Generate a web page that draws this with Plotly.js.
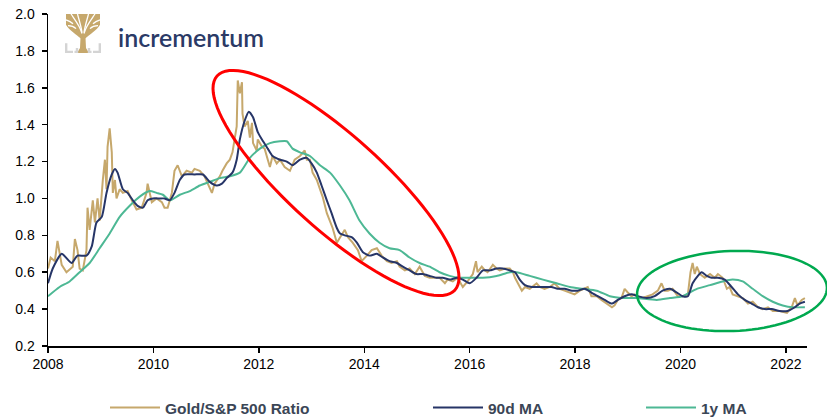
<!DOCTYPE html>
<html>
<head>
<meta charset="utf-8">
<script src="https://cdn.plot.ly/plotly-3.0.1.min.js"></script>
<style>html,body{margin:0;padding:0;background:#fff;}#chart{width:827px;height:419px;}</style>
</head>
<body>
<div id="chart"></div>
<script>
// ---- Data (decimal years, ratio values) ----
const goldX = [2008.00,2008.05,2008.13,2008.18,2008.26,2008.35,2008.47,2008.51,2008.56,2008.60,2008.66,2008.73,2008.75,2008.79,2008.85,2008.89,2008.94,2008.98,2009.04,2009.08,2009.11,2009.13,2009.17,2009.21,2009.23,2009.27,2009.30,2009.36,2009.42,2009.51,2009.59,2009.68,2009.78,2009.87,2009.89,2009.97,2010.06,2010.16,2010.21,2010.27,2010.35,2010.40,2010.46,2010.54,2010.63,2010.73,2010.78,2010.88,2010.97,2011.07,2011.11,2011.16,2011.26,2011.31,2011.39,2011.45,2011.50,2011.58,2011.60,2011.64,2011.68,2011.69,2011.73,2011.79,2011.83,2011.87,2011.89,2011.96,2011.98,2012.06,2012.11,2012.17,2012.21,2012.26,2012.34,2012.40,2012.49,2012.59,2012.68,2012.78,2012.87,2012.91,2012.97,2013.02,2013.10,2013.16,2013.21,2013.29,2013.35,2013.40,2013.48,2013.54,2013.63,2013.69,2013.78,2013.88,2013.95,2014.05,2014.14,2014.24,2014.33,2014.43,2014.52,2014.62,2014.67,2014.77,2014.86,2014.96,2015.05,2015.15,2015.24,2015.34,2015.43,2015.53,2015.58,2015.68,2015.77,2015.87,2015.96,2016.06,2016.12,2016.15,2016.23,2016.29,2016.34,2016.44,2016.51,2016.57,2016.67,2016.76,2016.82,2016.86,2016.92,2016.99,2017.05,2017.14,2017.27,2017.33,2017.42,2017.52,2017.61,2017.71,2017.80,2017.90,2017.99,2018.09,2018.18,2018.24,2018.31,2018.41,2018.50,2018.60,2018.70,2018.75,2018.81,2018.88,2018.94,2019.00,2019.07,2019.13,2019.17,2019.28,2019.38,2019.47,2019.57,2019.64,2019.70,2019.76,2019.85,2019.95,2020.04,2020.14,2020.19,2020.23,2020.27,2020.31,2020.37,2020.46,2020.56,2020.65,2020.71,2020.80,2020.88,2020.93,2020.99,2021.09,2021.18,2021.28,2021.37,2021.47,2021.56,2021.66,2021.75,2021.88,2022.02,2022.11,2022.17,2022.22,2022.30,2022.36];
const goldY = [0.62,0.68,0.66,0.77,0.64,0.60,0.63,0.78,0.72,0.62,0.61,0.72,0.95,0.83,0.99,0.87,1.00,0.88,1.10,1.21,1.05,1.28,1.38,1.25,1.03,1.10,1.00,1.05,1.03,1.04,0.99,0.94,0.95,1.03,1.08,0.98,1.00,0.98,0.95,0.95,1.03,1.15,1.18,1.12,1.15,1.14,1.16,1.15,1.12,1.05,1.03,1.08,1.12,1.15,1.19,1.21,1.25,1.39,1.64,1.57,1.63,1.46,1.39,1.42,1.33,1.41,1.30,1.26,1.32,1.28,1.27,1.21,1.17,1.23,1.19,1.21,1.17,1.15,1.21,1.23,1.26,1.21,1.21,1.14,1.10,1.05,1.01,0.92,0.88,0.84,0.76,0.79,0.83,0.79,0.76,0.72,0.66,0.69,0.72,0.73,0.69,0.66,0.65,0.66,0.63,0.61,0.62,0.59,0.63,0.58,0.57,0.57,0.57,0.54,0.56,0.55,0.57,0.52,0.55,0.59,0.66,0.60,0.63,0.61,0.60,0.64,0.62,0.61,0.62,0.62,0.60,0.57,0.54,0.50,0.52,0.51,0.54,0.52,0.51,0.52,0.54,0.51,0.50,0.49,0.48,0.50,0.51,0.52,0.47,0.47,0.45,0.43,0.41,0.42,0.45,0.46,0.51,0.49,0.47,0.48,0.47,0.46,0.47,0.48,0.50,0.54,0.50,0.50,0.51,0.47,0.47,0.48,0.60,0.65,0.59,0.63,0.59,0.57,0.59,0.57,0.59,0.57,0.51,0.52,0.48,0.47,0.46,0.43,0.44,0.41,0.40,0.41,0.39,0.39,0.38,0.41,0.46,0.42,0.45,0.46];

const ma90X = [2008.00,2008.09,2008.26,2008.37,2008.45,2008.56,2008.73,2008.83,2008.92,2009.02,2009.11,2009.21,2009.27,2009.32,2009.42,2009.51,2009.61,2009.70,2009.80,2009.89,2009.99,2010.12,2010.21,2010.31,2010.40,2010.50,2010.59,2010.78,2010.94,2011.07,2011.20,2011.30,2011.39,2011.50,2011.58,2011.64,2011.73,2011.81,2011.89,2011.98,2012.08,2012.17,2012.26,2012.40,2012.53,2012.64,2012.78,2012.91,2013.00,2013.10,2013.19,2013.29,2013.38,2013.48,2013.54,2013.63,2013.76,2013.86,2013.97,2014.10,2014.24,2014.35,2014.48,2014.62,2014.73,2014.86,2014.99,2015.11,2015.24,2015.37,2015.49,2015.62,2015.76,2015.87,2016.00,2016.13,2016.25,2016.38,2016.51,2016.63,2016.76,2016.86,2016.95,2017.05,2017.18,2017.42,2017.55,2017.67,2017.80,2017.94,2018.05,2018.18,2018.31,2018.43,2018.56,2018.70,2018.81,2018.94,2019.07,2019.19,2019.36,2019.51,2019.66,2019.80,2019.93,2020.04,2020.14,2020.23,2020.33,2020.40,2020.50,2020.59,2020.71,2020.84,2020.97,2021.09,2021.22,2021.35,2021.47,2021.60,2021.73,2021.88,2022.03,2022.17,2022.26,2022.36];
const ma90Y = [0.54,0.62,0.70,0.67,0.65,0.69,0.69,0.74,0.87,0.90,1.03,1.13,1.16,1.14,1.05,1.03,0.99,0.96,0.95,0.99,1.00,1.00,1.00,0.99,1.03,1.10,1.13,1.13,1.13,1.09,1.07,1.08,1.11,1.14,1.21,1.32,1.42,1.47,1.44,1.36,1.31,1.27,1.23,1.21,1.20,1.18,1.21,1.22,1.19,1.14,1.07,0.99,0.92,0.84,0.81,0.80,0.79,0.76,0.71,0.69,0.70,0.68,0.66,0.65,0.63,0.61,0.59,0.59,0.58,0.57,0.57,0.56,0.57,0.56,0.54,0.57,0.61,0.61,0.62,0.62,0.61,0.60,0.56,0.53,0.52,0.52,0.52,0.51,0.51,0.50,0.50,0.51,0.49,0.47,0.45,0.43,0.45,0.47,0.48,0.47,0.46,0.47,0.50,0.51,0.49,0.47,0.47,0.54,0.58,0.60,0.58,0.57,0.57,0.56,0.52,0.48,0.45,0.43,0.41,0.40,0.40,0.39,0.39,0.41,0.43,0.44];

const ma1yX = [2008.00,2008.22,2008.41,2008.60,2008.79,2008.98,2009.17,2009.36,2009.55,2009.74,2009.93,2010.06,2010.18,2010.31,2010.50,2010.69,2010.88,2011.07,2011.26,2011.45,2011.64,2011.83,2012.02,2012.21,2012.40,2012.53,2012.64,2012.78,2012.97,2013.16,2013.35,2013.54,2013.72,2013.91,2014.10,2014.29,2014.48,2014.67,2014.86,2015.05,2015.24,2015.43,2015.62,2015.81,2016.00,2016.25,2016.51,2016.76,2016.89,2017.14,2017.39,2017.65,2017.90,2018.15,2018.41,2018.66,2018.91,2019.17,2019.55,2019.80,2020.04,2020.31,2020.56,2020.80,2020.99,2021.18,2021.37,2021.56,2021.75,2021.94,2022.13,2022.36];
const ma1yY = [0.47,0.52,0.55,0.60,0.65,0.73,0.81,0.90,0.96,1.01,1.04,1.03,1.02,0.99,1.02,1.04,1.07,1.09,1.11,1.12,1.14,1.22,1.27,1.30,1.31,1.31,1.27,1.25,1.23,1.18,1.14,1.07,0.99,0.88,0.81,0.76,0.73,0.72,0.68,0.65,0.63,0.60,0.58,0.57,0.57,0.57,0.58,0.60,0.60,0.58,0.56,0.54,0.52,0.51,0.50,0.47,0.46,0.46,0.45,0.46,0.47,0.51,0.53,0.55,0.56,0.55,0.51,0.47,0.44,0.42,0.41,0.41];

const seriesNames = ['Gold/S&P 500 Ratio', '90d MA', '1y MA'];
const xTickVals = [2008,2010,2012,2014,2016,2018,2020,2022];
const xTickText = ['2008','2010','2012','2014','2016','2018','2020','2022'];
const yTickVals = [0.2,0.4,0.6,0.8,1.0,1.2,1.4,1.6,1.8,2.0];
const yTickText = ['0.2','0.4','0.6','0.8','1.0','1.2','1.4','1.6','1.8','2.0'];

// ---- Layout geometry ----
const W = 827, H = 419;
const M = {l: 48, r: 20, t: 14, b: 73};
const PW = W - M.l - M.r, PH = H - M.t - M.b;
const px2paperX = px => (px - M.l) / PW;
const py2paperY = py => (M.t + PH - py) / PH;

function ellipsePath(cx, cy, a, b, deg) {
  const th = deg * Math.PI / 180, n = 96;
  let d = '';
  for (let i = 0; i <= n; i++) {
    const t = 2 * Math.PI * i / n;
    const ex = a * Math.cos(t), ey = b * Math.sin(t);
    const x = cx + ex * Math.cos(th) - ey * Math.sin(th);
    const y = cy + ex * Math.sin(th) + ey * Math.cos(th);
    d += (i === 0 ? 'M' : 'L') + px2paperX(x).toFixed(5) + ',' + py2paperY(y).toFixed(5);
  }
  return d + 'Z';
}

const GOLD = '#C6A86C', NAVY = '#263567', TEAL = '#4DB894';
const FONT = 'Arial, "Liberation Sans", sans-serif';

const traces = [
  {x: goldX, y: goldY, name: seriesNames[0], type: 'scatter', mode: 'lines',
   line: {color: GOLD, width: 2}, legend: 'legend'},
  {x: ma1yX, y: ma1yY, name: seriesNames[2], type: 'scatter', mode: 'lines',
   line: {color: TEAL, width: 2, shape: 'spline', smoothing: 0.6}, legend: 'legend3'},
  {x: ma90X, y: ma90Y, name: seriesNames[1], type: 'scatter', mode: 'lines',
   line: {color: NAVY, width: 2, shape: 'spline', smoothing: 0.6}, legend: 'legend2'}
];

const logoSvg = "<svg xmlns='http://www.w3.org/2000/svg' viewBox='0 0 36 40'>" +
  "<path d='M1,0 H35 V11 C32,17 24,21 20.5,25 H15.5 C12,21 4,17 1,11 Z' fill='#C6A86C'/>" +
  "<g fill='none' stroke='#fff' stroke-width='1.3'>" +
  "<path d='M17,20 C15,12 10,6 6,0'/><path d='M17,19 C16,12 14,6 12.5,0'/>" +
  "<path d='M19,19 C20,12 22,6 23.5,0'/><path d='M19,20 C21,12 26,6 30,0'/>" +
  "<path d='M1,6 C4,7 6,8 8,10'/><path d='M35,6 C32,7 30,8 28,10'/>" +
  "<path d='M3,12 C6,12 9,13 11,15'/><path d='M33,12 C30,12 27,13 25,15'/></g>" +
  "<path d='M15.5,24 L20.5,24 L21,35 L24,40 L12,40 L15,35 Z' fill='#C6A86C'/>" +
  "<g fill='none' stroke='#D4D4D4' stroke-width='2.4'>" +
  "<path d='M1.2,30 V38.8 H8'/><path d='M34.8,30 V38.8 H28'/>" +
  "<path d='M9.5,38.8 H12 V35'/><path d='M26.5,38.8 H24 V35'/></g></svg>";

const legendFont = {family: FONT, size: 15.5, color: '#3B4656', weight: 'bold'};
const legendBase = {orientation: 'h', xref: 'container', yref: 'container', xanchor: 'left', yanchor: 'middle',
  font: legendFont, bgcolor: 'rgba(0,0,0,0)', borderwidth: 0, itemwidth: 50, tracegroupgap: 0};
const ly = (H - 408) / H;

const layout = {
  width: W, height: H,
  margin: M,
  paper_bgcolor: '#fff', plot_bgcolor: '#fff',
  font: {family: FONT, size: 13, color: '#000'},
  showlegend: true,
  legend: Object.assign({}, legendBase, {x: 105 / W, y: ly}),
  legend2: Object.assign({}, legendBase, {x: 428 / W, y: ly}),
  legend3: Object.assign({}, legendBase, {x: 641 / W, y: ly}),
  xaxis: {
    range: [2008, 2022.4], tickvals: xTickVals, ticktext: xTickText,
    showgrid: false, zeroline: false, showline: true, linecolor: '#000', linewidth: 1.5,
    ticks: 'outside', ticklen: 5, tickwidth: 1.5, tickcolor: '#000',
    tickfont: {family: FONT, size: 14, color: '#000'}
  },
  yaxis: {
    range: [0.2, 2.0], tickvals: yTickVals, ticktext: yTickText,
    showgrid: false, zeroline: false, showline: true, linecolor: '#000', linewidth: 1.5,
    ticks: 'outside', ticklen: 5, tickwidth: 1.5, tickcolor: '#000', ticklabelstandoff: 4,
    tickfont: {family: FONT, size: 14, color: '#000'}
  },
  shapes: [
    {type: 'path', xref: 'paper', yref: 'paper', path: ellipsePath(336, 183, 160, 47, 42),
     line: {color: '#FF0000', width: 3}, fillcolor: 'rgba(0,0,0,0)'},
    {type: 'path', xref: 'paper', yref: 'paper', path: ellipsePath(732, 291, 95, 40, -2.2),
     line: {color: '#00A94F', width: 2.5}, fillcolor: 'rgba(0,0,0,0)'}
  ],
  images: [{
    source: 'data:image/svg+xml;charset=utf-8,' + encodeURIComponent(logoSvg),
    xref: 'paper', yref: 'paper', x: px2paperX(65), y: py2paperY(14),
    sizex: 36 / PW, sizey: 39 / PH, xanchor: 'left', yanchor: 'top', sizing: 'stretch', layer: 'above'
  }],
  annotations: [{
    text: 'incrementum', xref: 'paper', yref: 'paper', x: px2paperX(116), y: py2paperY(37),
    xanchor: 'left', yanchor: 'middle', showarrow: false,
    font: {family: 'Lato, "Open Sans", sans-serif', size: 25, color: '#2B3A66', weight: 600}
  }]
};

Plotly.newPlot('chart', traces, layout, {displayModeBar: false, staticPlot: true});
</script>
</body>
</html>
